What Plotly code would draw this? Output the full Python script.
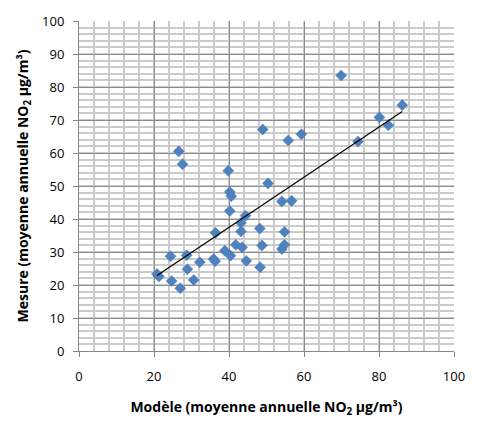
import plotly.graph_objects as go
import numpy as np

# Modeled vs measured annual NO2 (µg/m³)
modele = [20.8, 21.3, 24.4, 24.7, 26.6, 27.0, 27.6, 28.7, 28.9, 30.6,
          32.2, 35.9, 36.3, 36.4, 38.9, 39.8, 40.2, 40.6, 40.2, 40.4,
          41.8, 43.2, 43.2, 43.5, 44.4, 44.6, 48.2, 48.8, 48.3, 49.0,
          50.4, 54.1, 56.7, 54.8, 54.8, 54.1, 55.8, 59.3, 69.9, 74.4,
          80.1, 82.5, 86.2]
mesure = [23.3, 22.6, 28.7, 21.2, 60.5, 19.0, 56.6, 29.0, 24.8, 21.5,
          26.9, 27.9, 27.2, 35.8, 30.4, 54.6, 48.2, 46.9, 42.4, 28.9,
          32.2, 38.8, 36.2, 31.4, 41.0, 27.3, 37.1, 32.0, 25.4, 67.1,
          50.8, 45.3, 45.5, 36.1, 32.2, 30.9, 63.8, 65.7, 83.5, 63.5,
          70.8, 68.4, 74.5]

# Linear trend line
trend_slope = 0.76
trend_intercept = 7.1

x_ticks = [0, 20, 40, 60, 80, 100]
y_ticks = [0, 10, 20, 30, 40, 50, 60, 70, 80, 90, 100]

tx = np.array([min(modele), max(modele)])
ty = trend_slope * tx + trend_intercept

FONT = "'Open Sans', Lato, sans-serif"

fig = go.Figure()
fig.add_trace(go.Scatter(
    x=modele, y=mesure, mode="markers",
    marker=dict(symbol="diamond", size=8.5, color="#4F81BD",
                line=dict(width=0.5, color="#4A7EBB")),
    showlegend=False, hoverinfo="x+y"))
fig.add_trace(go.Scatter(
    x=tx, y=ty, mode="lines",
    line=dict(color="black", width=1.2),
    showlegend=False, hoverinfo="skip"))

fig.update_layout(
    width=477, height=424,
    margin=dict(l=79, r=14, t=17, b=70),
    paper_bgcolor="white", plot_bgcolor="white",
    font=dict(family=FONT, size=13, color="#000000"),
    xaxis=dict(
        range=[0, 100], tickvals=x_ticks, ticktext=[str(v) for v in x_ticks],
        showgrid=True, gridcolor="#8C8C8C", gridwidth=1,
        minor=dict(dtick=4, showgrid=True, gridcolor="#CBCBCB", gridwidth=1.5),
        showline=True, linecolor="#868686", linewidth=1,
        ticks="outside", ticklen=5, tickcolor="#868686",
        ticklabelstandoff=8,
        zeroline=False, mirror=False,
        tickfont=dict(family=FONT, size=13),
        title=dict(text="<b>Modèle (moyenne annuelle NO<sub>2</sub> µg/m³)</b>",
                   font=dict(family=FONT, size=14), standoff=18),
    ),
    yaxis=dict(
        range=[0, 100], tickvals=y_ticks, ticktext=[str(v) for v in y_ticks],
        showgrid=True, gridcolor="#8C8C8C", gridwidth=1,
        minor=dict(dtick=2, showgrid=True, gridcolor="#CBCBCB", gridwidth=1.5),
        showline=True, linecolor="#868686", linewidth=1,
        ticks="outside", ticklen=5, tickcolor="#868686",
        ticklabelstandoff=6,
        zeroline=False,
        tickfont=dict(family=FONT, size=13),
        title=dict(text="<b>Mesure (moyenne annuelle NO<sub>2</sub> µg/m³)</b>",
                   font=dict(family=FONT, size=14), standoff=10),
    ),
)

fig.write_html("out.html")
